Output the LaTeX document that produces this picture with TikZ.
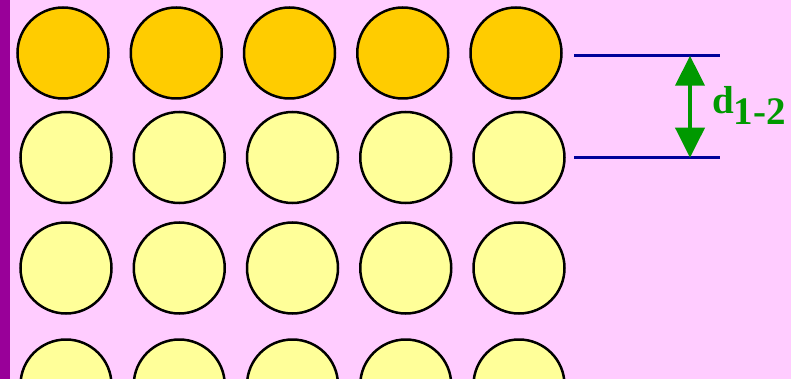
\documentclass[tikz,border=0pt]{standalone}
\usepackage{fontspec}
\setmainfont{Liberation Serif}
\usetikzlibrary{arrows.meta}

\definecolor{bgpink}{HTML}{FFCCFF}
\definecolor{barpurple}{HTML}{990099}
\definecolor{topgold}{HTML}{FFCC00}
\definecolor{palelemon}{HTML}{FFFF99}
\definecolor{planeblue}{HTML}{000099}
\definecolor{spacegreen}{HTML}{009900}

\begin{document}
\begin{tikzpicture}[x=1pt,y=-1pt,
    ball/.style={circle,draw=black,line width=2.5pt,minimum size=91pt,inner sep=0pt},
    plane/.style={draw=planeblue,line width=3pt}]
    \useasboundingbox (0,0) rectangle (791,379);
    \fill[bgpink] (0,0) rectangle (791,379);
    \fill[barpurple] (0,0) rectangle (10,379);
    \clip (0,0) rectangle (791,379);
    % first layer
    \foreach \c in {1,...,5}
      \node[ball,fill=topgold] (a\c) at ({63+113.25*(\c-1)},53) {};
    % layers below
    \foreach \r/\y in {2/157.5,3/268,4/385}
      \foreach \c in {1,...,5}
        \node[ball,fill=palelemon] (b\r\c) at ({66+113.25*(\c-1)},\y) {};
    % interplanar spacing
    \coordinate (p1) at (574,55.7);
    \coordinate (q1) at (720,55.7);
    \coordinate (p2) at (574,157.7);
    \coordinate (q2) at (720,157.7);
    \coordinate (t1) at (690,55.7);
    \coordinate (t2) at (690,157.7);
    \draw[plane] (p1) -- (q1);
    \draw[plane] (p2) -- (q2);
    \draw[draw=spacegreen,line width=4pt,
      {Triangle[width=29pt,length=30pt]}-{Triangle[width=29pt,length=30pt]}]
      (t1) -- (t2);
    \node[text=spacegreen,anchor=base west,inner sep=0pt] (dlbl) at (712,114)
      {\fontsize{39}{39}\selectfont\bfseries d\raisebox{-0.28em}{1-2}};
\end{tikzpicture}
\end{document}
